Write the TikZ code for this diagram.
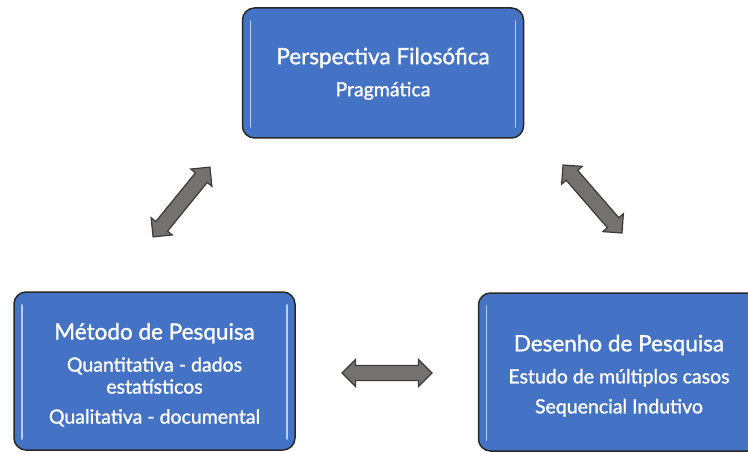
\documentclass[tikz,border=0pt]{standalone}
\usepackage{fontspec}
\setmainfont{Lato}[BoldFont=Lato,BoldFeatures={FakeBold=1.3}]
\usetikzlibrary{shapes.arrows}
\usetikzlibrary{calc,positioning}

\definecolor{boxblue}{RGB}{68,114,196}
\definecolor{boxline}{RGB}{40,40,40}
\definecolor{arrowgray}{RGB}{118,113,113}
\definecolor{arrowline}{RGB}{58,58,58}
\definecolor{shine}{RGB}{180,206,246}

\newcommand{\boxtitle}[2][24pt]{{\fontsize{22.5}{22}\selectfont\rule{0pt}{#1}#2}}

\begin{document}
\begin{tikzpicture}
[x=1pt,y=-1pt,
caixa/.style={rectangle,rounded corners=12pt,fill=boxblue,draw=boxline,line width=1.5pt,
  text=white,align=center,minimum width=281pt,font=\fontsize{19.5}{22}\selectfont\bfseries,
  path picture={
    \draw[shine,line width=1.8pt,line cap=round]
      ([xshift=8pt,yshift=-13pt]path picture bounding box.north west) --
      ([xshift=8pt,yshift=11pt]path picture bounding box.south west);
    \draw[shine,line width=1.8pt,line cap=round]
      ([xshift=-8pt,yshift=-13pt]path picture bounding box.north east) --
      ([xshift=-8pt,yshift=11pt]path picture bounding box.south east);}},
seta/.style={shape=double arrow,fill=arrowgray,draw=arrowline,line width=1.2pt,
  minimum height=90pt,minimum width=26pt,double arrow head extend=6pt,inner sep=7pt}]

\useasboundingbox (0,0) rectangle (748,452);
\clip (0,0) rectangle (748,452);

\node[caixa,minimum height=130pt] (persp) at (383,73)
  {\boxtitle[18pt]{Perspectiva Filosófica}\\[10pt] Pragmática};
\node[caixa,minimum height=158pt] (metodo) at (154.5,371)
  {\boxtitle{Método de Pesquisa}\\[10pt] Quantitativa - dados\\ estatísticos\\[8pt] Qualitativa - documental};
\node[caixa,minimum height=158pt] (desenho) at (619,372)
  {\boxtitle{Desenho de Pesquisa}\\[10pt] Estudo de múltiplos casos\\[8pt] Sequencial Indutivo};

% ends of the block arrows
\coordinate (pm) at (210,167);
\coordinate (mp) at (153,237);
\coordinate (pd) at (563,165);
\coordinate (dp) at (622,233);
\coordinate (md) at (342,373);
\coordinate (dm) at (432,373);

\foreach \from/\to in {mp/pm,pd/dp,md/dm}
\path (\from) -- (\to) node[seta,midway,sloped] {};

\end{tikzpicture}
\end{document}
